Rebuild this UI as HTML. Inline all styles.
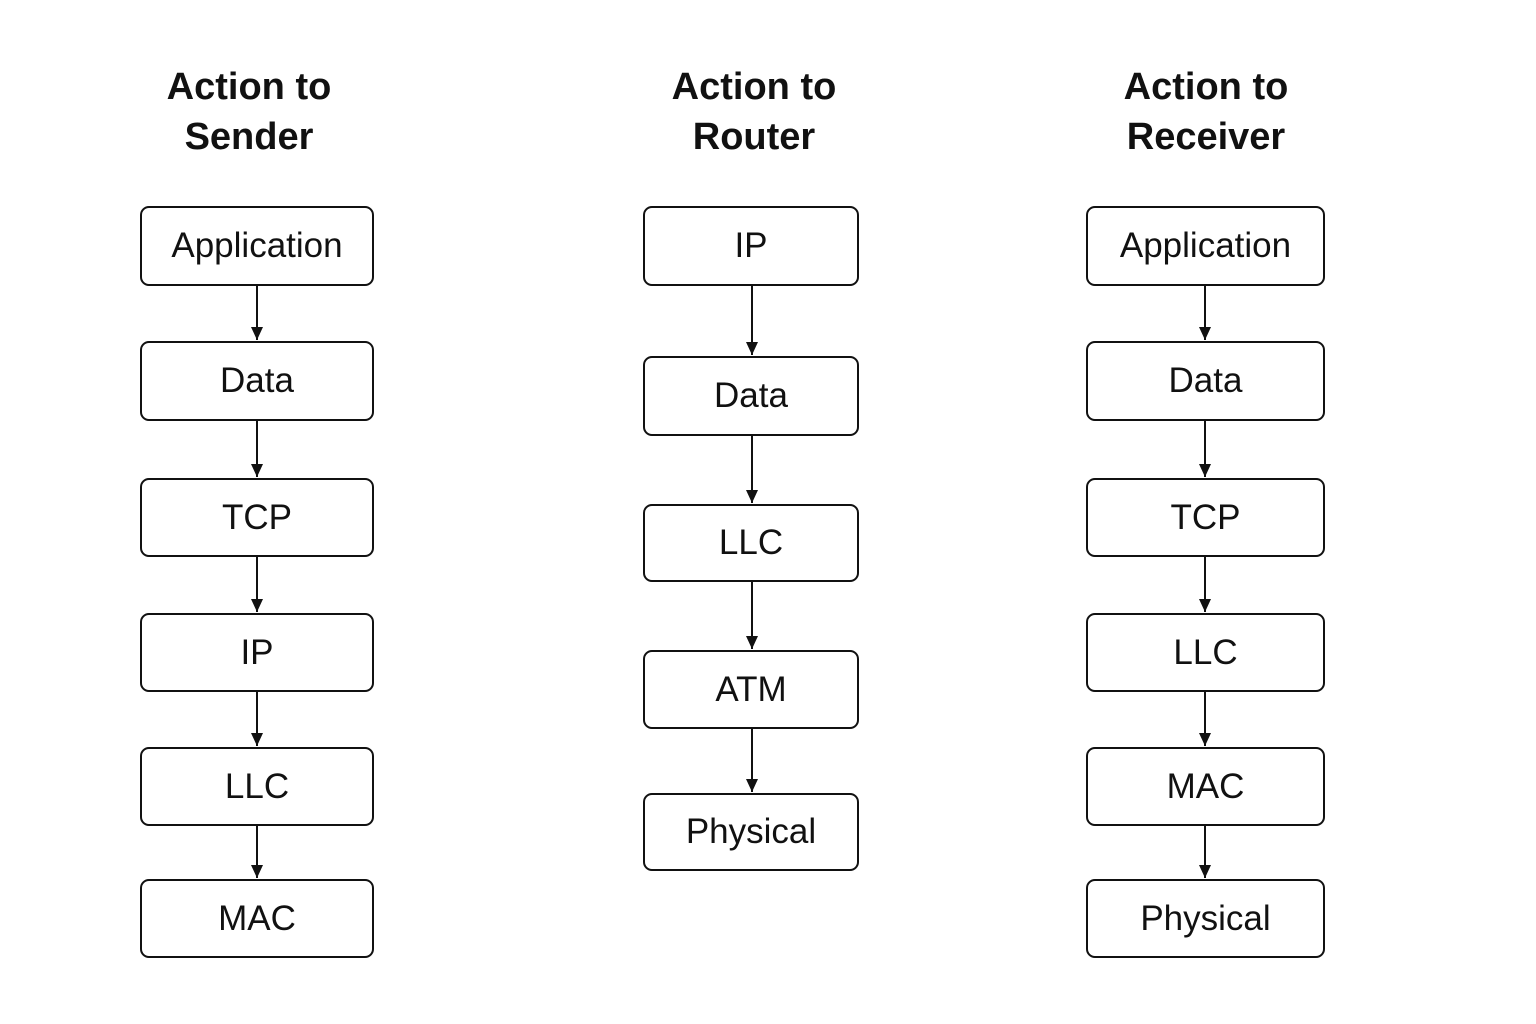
<!DOCTYPE html>
<html><head><meta charset="utf-8"><style>
html,body{margin:0;padding:0;background:#fff;}
body{width:1536px;height:1024px;position:relative;overflow:hidden;font-family:"Liberation Sans",sans-serif;}
.t{position:absolute;font-weight:bold;font-size:38px;line-height:50px;text-align:center;width:300px;color:#111;}
.b{position:absolute;box-sizing:border-box;border:2px solid #111;border-radius:9px;display:flex;align-items:center;justify-content:center;font-size:35px;color:#111;}
svg{position:absolute;left:0;top:0;}
</style></head><body>
<div class="t" style="left:99px;top:62px">Action to<br>Sender</div>
<div class="t" style="left:604px;top:62px">Action to<br>Router</div>
<div class="t" style="left:1056px;top:62px">Action to<br>Receiver</div>

<div class="b" style="left:140px;top:206px;width:234px;height:80px">Application</div>
<div class="b" style="left:140px;top:341px;width:234px;height:80px">Data</div>
<div class="b" style="left:140px;top:478px;width:234px;height:79px">TCP</div>
<div class="b" style="left:140px;top:613px;width:234px;height:79px">IP</div>
<div class="b" style="left:140px;top:747px;width:234px;height:79px">LLC</div>
<div class="b" style="left:140px;top:879px;width:234px;height:79px">MAC</div>

<div class="b" style="left:643px;top:206px;width:216px;height:80px">IP</div>
<div class="b" style="left:643px;top:356px;width:216px;height:80px">Data</div>
<div class="b" style="left:643px;top:504px;width:216px;height:78px">LLC</div>
<div class="b" style="left:643px;top:650px;width:216px;height:79px">ATM</div>
<div class="b" style="left:643px;top:793px;width:216px;height:78px">Physical</div>

<div class="b" style="left:1086px;top:206px;width:239px;height:80px">Application</div>
<div class="b" style="left:1086px;top:341px;width:239px;height:80px">Data</div>
<div class="b" style="left:1086px;top:478px;width:239px;height:79px">TCP</div>
<div class="b" style="left:1086px;top:613px;width:239px;height:79px">LLC</div>
<div class="b" style="left:1086px;top:747px;width:239px;height:79px">MAC</div>
<div class="b" style="left:1086px;top:879px;width:239px;height:79px">Physical</div>

<svg width="1536" height="1024">
<defs><marker id="a" markerWidth="13" markerHeight="12" refX="13" refY="6" orient="auto" markerUnits="userSpaceOnUse"><path d="M0,0 L13,6 L0,12 z" fill="#111"/></marker></defs>
<g stroke="#111" stroke-width="2" marker-end="url(#a)">
<line x1="257" y1="286" x2="257" y2="340"/>
<line x1="257" y1="421" x2="257" y2="477"/>
<line x1="257" y1="557" x2="257" y2="612"/>
<line x1="257" y1="692" x2="257" y2="746"/>
<line x1="257" y1="826" x2="257" y2="878"/>
<line x1="752" y1="286" x2="752" y2="355"/>
<line x1="752" y1="436" x2="752" y2="503"/>
<line x1="752" y1="582" x2="752" y2="649"/>
<line x1="752" y1="729" x2="752" y2="792"/>
<line x1="1205" y1="286" x2="1205" y2="340"/>
<line x1="1205" y1="421" x2="1205" y2="477"/>
<line x1="1205" y1="557" x2="1205" y2="612"/>
<line x1="1205" y1="692" x2="1205" y2="746"/>
<line x1="1205" y1="826" x2="1205" y2="878"/>
</g></svg>
</body></html>
